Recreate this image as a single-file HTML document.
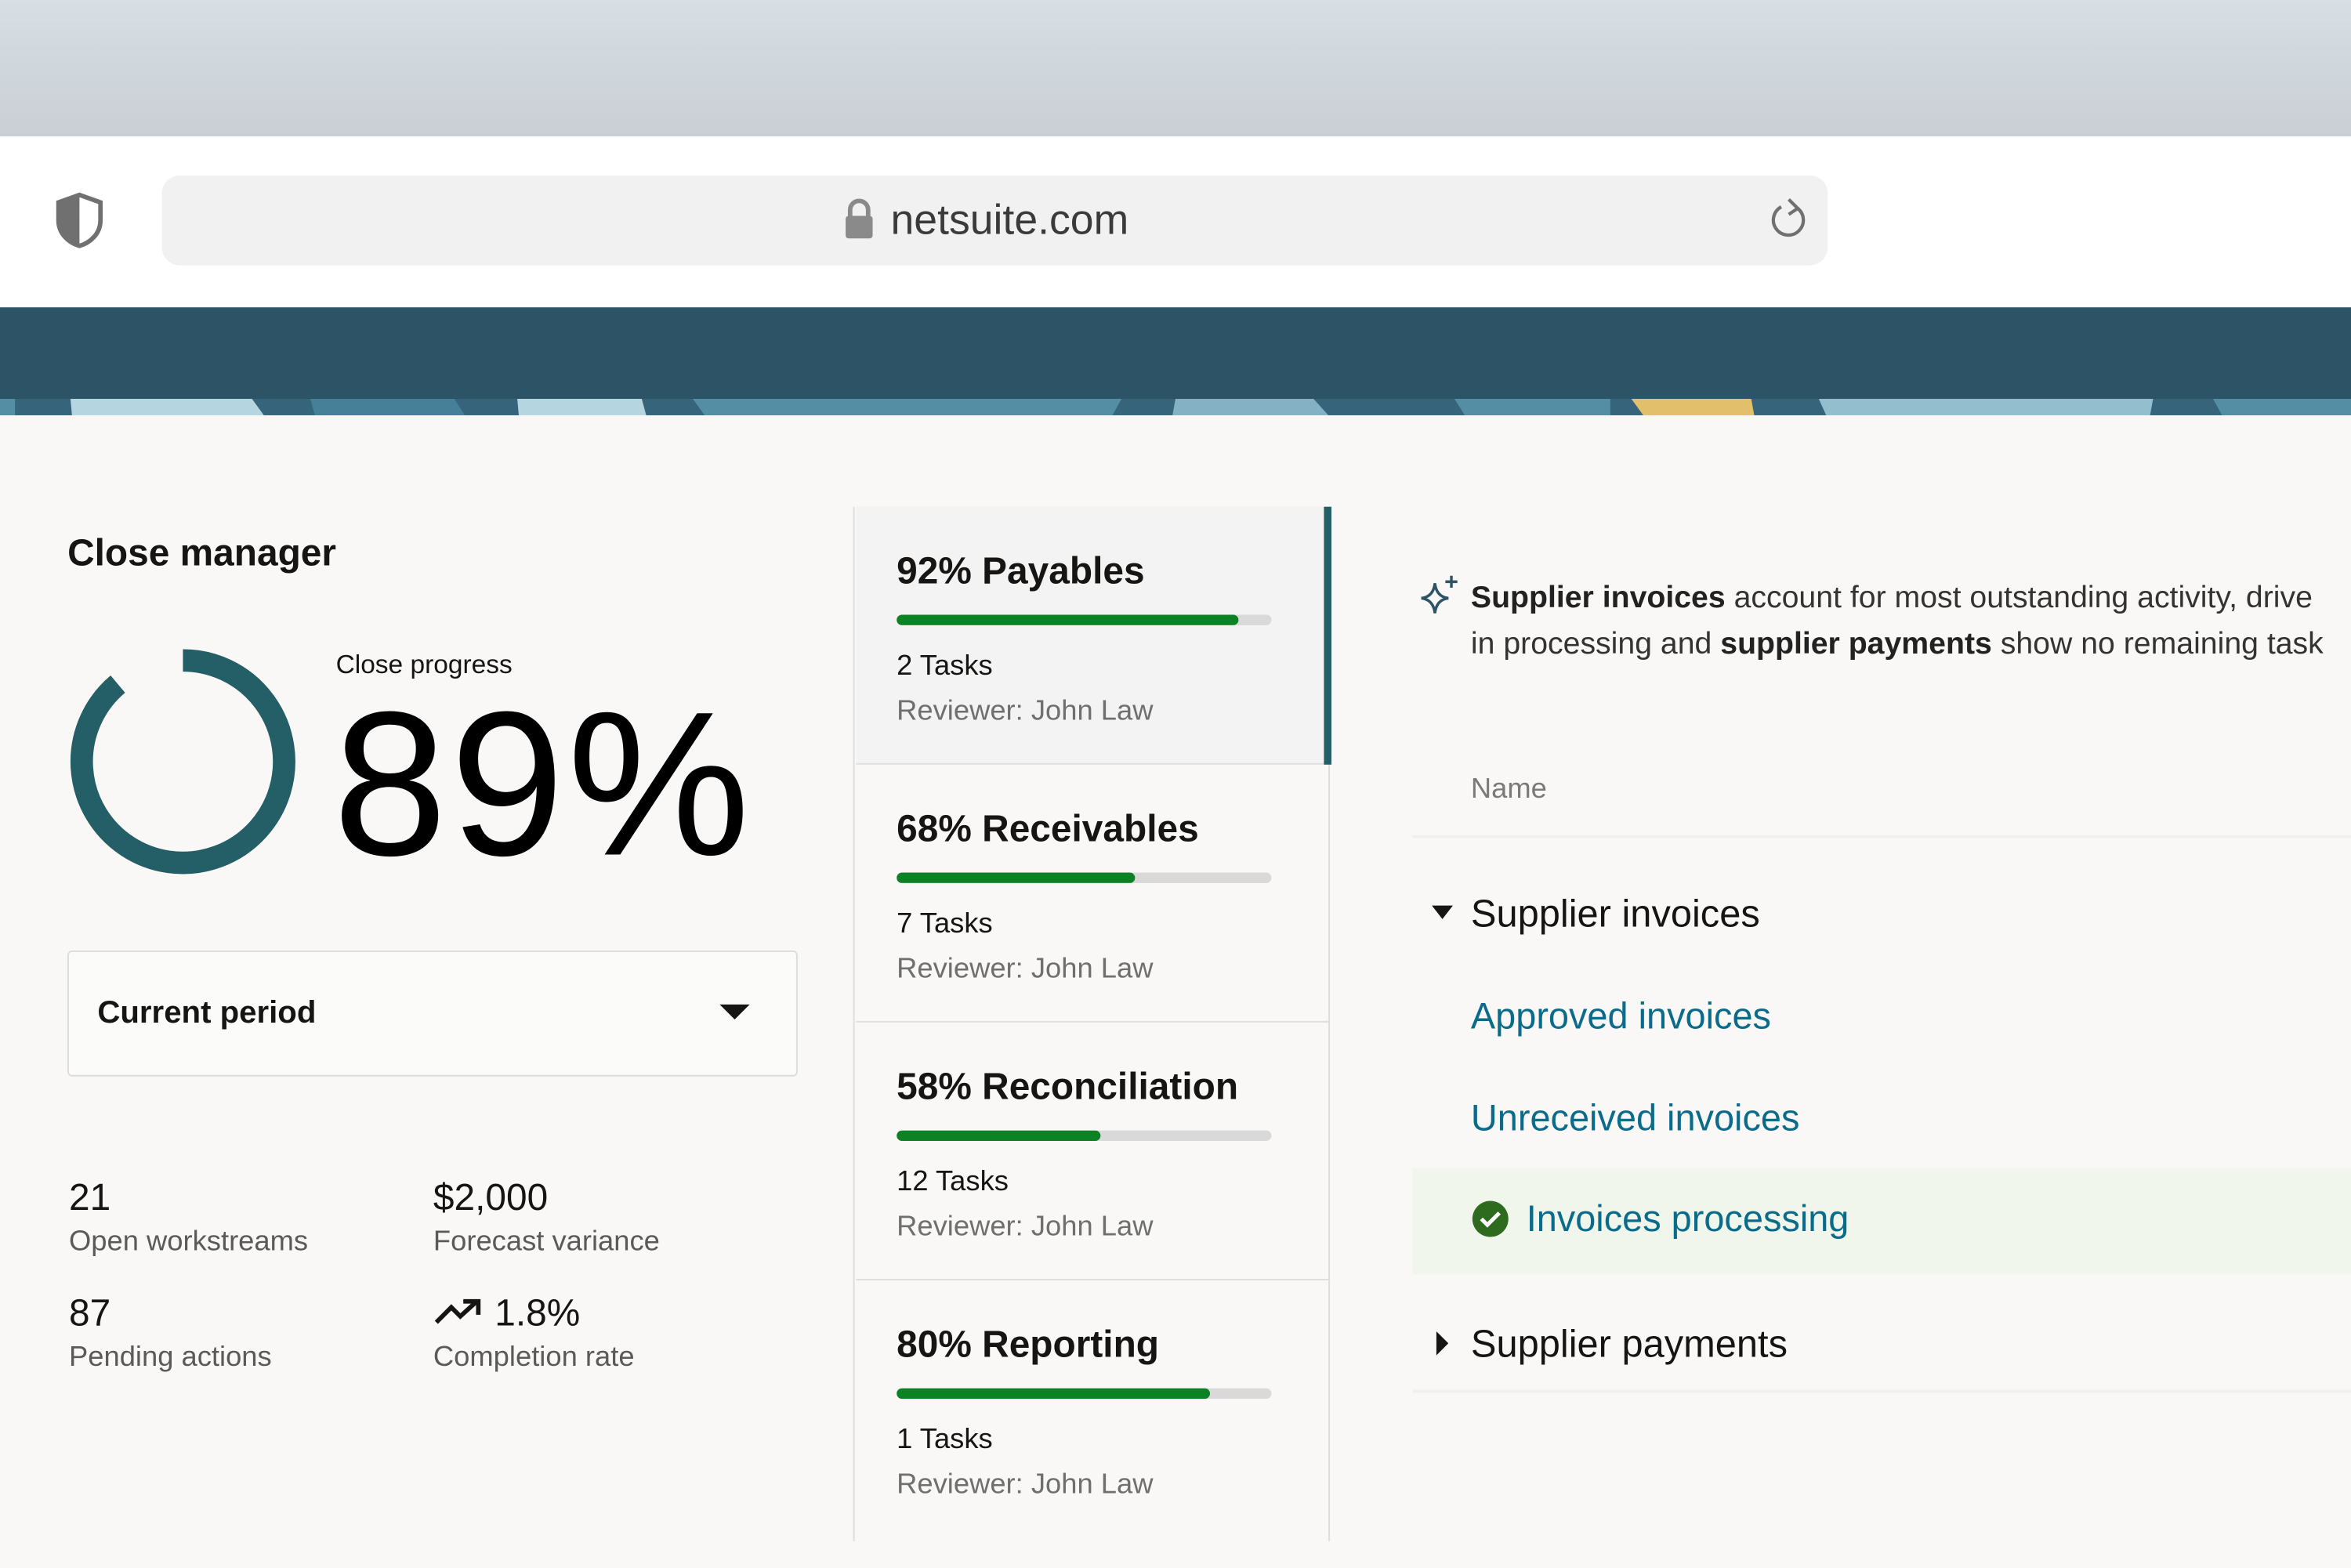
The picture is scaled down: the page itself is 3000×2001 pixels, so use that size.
<!DOCTYPE html>
<html><head><meta charset="utf-8"><style>
html,body{margin:0;padding:0;width:3000px;height:2000px;overflow:hidden;background:#f9f8f6}
#s{position:absolute;left:0;top:0;width:1568px;height:1046px;transform:scale(1.913265);transform-origin:0 0;font-family:"Liberation Sans",sans-serif;background:#f9f8f6}
.a{position:absolute;white-space:nowrap}
.card{position:absolute;left:571px;width:316px;height:171px;border-bottom:1px solid #dedede}
.card .t{position:absolute;left:27px;top:29px;font-size:25px;font-weight:bold;color:#161513}
.bar{position:absolute;left:27px;top:72px;width:250px;height:7px;border-radius:4px;background:#d9d9d9;overflow:hidden}
.bar i{position:absolute;left:0;top:0;height:7px;border-radius:4px;background:#0c8224}
.card .k{position:absolute;left:27px;top:96px;font-size:19px;color:#161513}
.card .r{position:absolute;left:27px;top:126px;font-size:19px;color:#6f6f6f}
.st .n{font-size:25px;color:#161513}
.st .l{font-size:19px;color:#5a5a5a;margin-top:4px}
</style></head><body><div id="s">
<div class="a" style="left:0;top:0;width:1568px;height:91px;background:linear-gradient(#d7dee4,#c9cfd4)"></div>
<div class="a" style="left:0;top:91px;width:1568px;height:114px;background:#fff"></div>
<svg class="a" style="left:36px;top:128px" width="34" height="38" viewBox="0 0 34 38"><path d="M17 2 L31 7 V19 C31 28 24 34 17 36 C10 34 3 28 3 19 V7 Z" fill="none" stroke="#707070" stroke-width="3"/><path d="M17 2 L3 7 V19 C3 28 10 34 17 36 Z" fill="#707070"/></svg>
<div class="a" style="left:108px;top:117px;width:1111px;height:60px;border-radius:12px;background:#f1f1f1"></div>
<svg class="a" style="left:562px;top:132px" width="22" height="28" viewBox="0 0 22 28"><path d="M5 13 V8 a6 6 0 0 1 12 0 V13" fill="none" stroke="#8a8a8a" stroke-width="3"/><rect x="2" y="12" width="18" height="15" rx="2" fill="#8a8a8a"/></svg>
<div class="a" style="left:594px;top:131px;font-size:28px;color:#3a3a3a">netsuite.com</div>
<svg class="a" style="left:1179px;top:132px" width="28" height="30" viewBox="0 0 28 30"><path d="M20 7 A10 10 0 1 1 9 6" fill="none" stroke="#707070" stroke-width="2.2"/><path d="M14 1 L20 7 L14 11" fill="none" stroke="#707070" stroke-width="2.2"/></svg>
<div class="a" style="left:0;top:205px;width:1568px;height:62px;background:#2c5366"></div>
<svg class="a" style="left:0;top:266px" width="1568" height="11" viewBox="0 0 1568 11" preserveAspectRatio="none">
<rect width="1568" height="11" fill="#36647a"/>
<rect x="0" width="10" height="11" fill="#548ea5"/>
<polygon points="47,0 168,0 176,11 48,11" fill="#b5d6e0"/>
<polygon points="207,0 303,0 310,11 210,11" fill="#467f98"/>
<polygon points="345,0 428,0 431,11 346,11" fill="#b5d6e0"/>
<polygon points="462,0 748,0 742,11 470,11" fill="#548ea5"/>
<polygon points="784,0 876,0 886,11 782,11" fill="#84b2c4"/>
<polygon points="970,0 1074,0 1074,11 977,11" fill="#548ea5"/>
<polygon points="1088,0 1168,0 1170,11 1096,11" fill="#e2bf6a"/>
<polygon points="1213,0 1436,0 1434,11 1218,11" fill="#93bece"/>
<polygon points="1476,0 1568,0 1568,11 1482,11" fill="#548ea5"/>
</svg>
<div class="a" style="left:45px;top:355px;font-size:25px;font-weight:bold;color:#161513">Close manager</div>
<svg class="a" style="left:0;top:0" width="300" height="600"><path d="M122 440.5 A67.5 67.5 0 1 1 78.6 456.3" fill="none" stroke="#245e66" stroke-width="15"/></svg>
<div class="a" style="left:224px;top:433px;font-size:17.5px;color:#161513">Close progress</div>
<div class="a" style="left:222px;top:449px;font-size:137px;line-height:150px;color:#000;letter-spacing:2px">89%</div>
<div class="a" style="left:45px;top:634px;width:485px;height:82px;border:1px solid #dcdcdc;background:#fbfbfa;border-radius:3px"></div>
<div class="a" style="left:65px;top:664px;font-size:21px;font-weight:bold;color:#161513">Current period</div>
<svg class="a" style="left:478px;top:668px" width="24" height="14"><polygon points="2,2 22,2 12,12" fill="#161513"/></svg>
<div class="a st" style="left:46px;top:785px"><div class="n">21</div><div class="l">Open workstreams</div></div>
<div class="a st" style="left:289px;top:785px"><div class="n">$2,000</div><div class="l">Forecast variance</div></div>
<div class="a st" style="left:46px;top:862px"><div class="n">87</div><div class="l">Pending actions</div></div>
<div class="a st" style="left:289px;top:862px"><div class="n"><svg width="34" height="20" viewBox="0 0 34 20" style="vertical-align:-1px"><path d="M2 17 L12 7 L18 13 L29 3" fill="none" stroke="#161513" stroke-width="3"/><path d="M20 3 H30 V12" fill="none" stroke="#161513" stroke-width="3"/></svg> 1.8%</div><div class="l">Completion rate</div></div>
<div class="a" style="left:569px;top:338px;width:1px;height:690px;background:#dcdcdc"></div>
<div class="a" style="left:886px;top:338px;width:1px;height:690px;background:#dcdcdc"></div>
<div class="card" style="top:338px;background:#f3f3f3"><div class="t">92% Payables</div><div class="bar"><i style="width:228px"></i></div><div class="k">2 Tasks</div><div class="r">Reviewer: John Law</div></div>
<div class="a" style="left:883px;top:338px;width:5px;height:172px;background:#245e66"></div>
<div class="card" style="top:510px"><div class="t">68% Receivables</div><div class="bar"><i style="width:159px"></i></div><div class="k">7 Tasks</div><div class="r">Reviewer: John Law</div></div>
<div class="card" style="top:682px"><div class="t">58% Reconciliation</div><div class="bar"><i style="width:136px"></i></div><div class="k">12 Tasks</div><div class="r">Reviewer: John Law</div></div>
<div class="card" style="top:854px;border-bottom:none"><div class="t">80% Reporting</div><div class="bar"><i style="width:209px"></i></div><div class="k">1 Tasks</div><div class="r">Reviewer: John Law</div></div>
<svg class="a" style="left:946px;top:383px" width="28" height="28" viewBox="0 0 28 28"><path d="M11 6 Q12 15 20 16 Q12 17 11 26 Q10 17 2 16 Q10 15 11 6Z" fill="none" stroke="#2c5366" stroke-width="1.8"/><path d="M22 1 V9 M18 5 H26" stroke="#2c5366" stroke-width="1.8"/></svg>
<div class="a" style="left:981px;top:383px;font-size:20.5px;line-height:31px;color:#333"><b style="color:#222">Supplier invoices</b> account for most outstanding activity, drive<br>in processing and <b style="color:#222">supplier payments</b> show no remaining task</div>
<div class="a" style="left:981px;top:516px;font-size:19px;color:#7a7a7a">Name</div>
<div class="a" style="left:942px;top:557px;width:626px;height:2px;background:#efefed"></div>
<svg class="a" style="left:954px;top:603px" width="16" height="12"><polygon points="1,1 15,1 8,10" fill="#161513"/></svg>
<div class="a" style="left:981px;top:596px;font-size:25.5px;color:#161513">Supplier invoices</div>
<div class="a" style="left:981px;top:665px;font-size:24.5px;color:#0a6b8a">Approved invoices</div>
<div class="a" style="left:981px;top:733px;font-size:24.5px;color:#0a6b8a">Unreceived invoices</div>
<div class="a" style="left:942px;top:779px;width:626px;height:71px;background:#f1f6ec"></div>
<svg class="a" style="left:981px;top:800px" width="26" height="26"><circle cx="13" cy="13" r="12" fill="#2f6b1f"/><path d="M7 13 L11 17 L19 9" fill="none" stroke="#fff" stroke-width="2.6"/></svg>
<div class="a" style="left:1018px;top:800px;font-size:24.5px;color:#0a6b8a">Invoices processing</div>
<svg class="a" style="left:956px;top:887px" width="12" height="18"><polygon points="2,1 10,9 2,17" fill="#161513"/></svg>
<div class="a" style="left:981px;top:883px;font-size:25.5px;color:#161513">Supplier payments</div>
<div class="a" style="left:942px;top:927px;width:626px;height:2px;background:#efefed"></div>
</div></body></html>
